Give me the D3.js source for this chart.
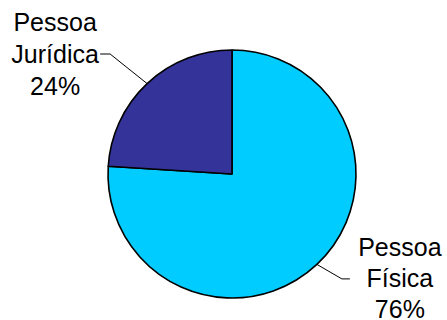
<!DOCTYPE html>
<html>
<head>
<meta charset="utf-8">
<script src="https://cdn.jsdelivr.net/npm/d3@7"></script>
<style>
  body { margin: 0; background: #fff; }
  svg { display: block; }
  text { font-family: "Liberation Sans", Arial, sans-serif; font-size: 25px; fill: #000; }
</style>
</head>
<body>
<div id="container"></div>
<script>
const categories = ["Pessoa Física", "Pessoa Jurídica"];
const labelLines = [["Pessoa", "Física", "76%"], ["Pessoa", "Jurídica", "24%"]];
const values = [76, 24];
const colors = ["#00CCFF", "#333399"];

const width = 447, height = 320;
const cx = 232, cy = 174, radius = 124;

// leader line layout per slice: elbow offset from the rim, horizontal tail, text offset
const layout = [
  { ex: 25, ey: 14.5, tail: 8, textDx: 50, lineH: 31 },
  { ex: -37, ey: -29.6, tail: -10, textDx: -45, lineH: 32 }
];

const svg = d3.select("#container")
  .append("svg")
  .attr("width", width)
  .attr("height", height);

const g = svg.append("g")
  .attr("transform", `translate(${cx},${cy})`);

const pie = d3.pie().sort(null).value(d => d.value);
const arcs = pie(categories.map((c, i) => ({ name: c, value: values[i], i })));

const arc = d3.arc().innerRadius(0).outerRadius(radius);

g.selectAll("path.slice")
  .data(arcs)
  .join("path")
  .attr("class", "slice")
  .attr("d", arc)
  .attr("fill", d => colors[d.data.i])
  .attr("stroke", "#000")
  .attr("stroke-width", 1.6)
  .attr("stroke-linejoin", "round");

const pt = (a, r) => [Math.sin(a) * r, -Math.cos(a) * r];

arcs.forEach(d => {
  const L = layout[d.data.i];
  const mid = (d.startAngle + d.endAngle) / 2;
  const p0 = pt(mid, radius);
  const p1 = [p0[0] + L.ex, p0[1] + L.ey];
  const p2 = [p1[0] + L.tail, p1[1]];

  g.append("polyline")
    .attr("points", [p0, p1, p2].map(p => p.join(",")).join(" "))
    .attr("fill", "none")
    .attr("stroke", "#000")
    .attr("stroke-width", 1);

  const t = g.append("text")
    .attr("text-anchor", "middle")
    .attr("x", p2[0] + L.textDx)
    .attr("y", p2[1] + 8.5);

  labelLines[d.data.i].forEach((line, k) => {
    t.append("tspan")
      .attr("x", p2[0] + L.textDx)
      .attr("dy", k === 0 ? -L.lineH : L.lineH)
      .text(line);
  });
});
</script>
</body>
</html>
